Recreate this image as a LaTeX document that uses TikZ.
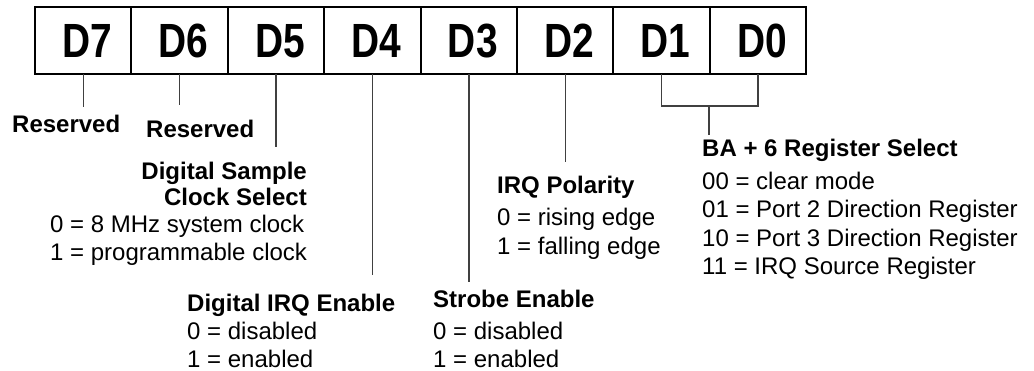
\documentclass[tikz,border=0pt]{standalone}
\usepackage{fontspec}
\setmainfont{Liberation Sans}
\usetikzlibrary{positioning}

\tikzset{
    cell/.style={draw, line width=2pt, minimum width=96.4pt, minimum height=67pt, inner sep=0pt, outer sep=0pt},
    lead/.style={draw=black!75, line width=1.4pt},
    head/.style={inner sep=0pt, anchor=north west, font=\fontsize{24}{26}\selectfont\bfseries},
    vals/.style={inner sep=0pt, anchor=north west, align=left, font=\fontsize{24}{28}\selectfont}
}
\newcommand{\bitname}[1]{\hspace*{8pt}\scalebox{0.81}[1]{\fontsize{48}{48}\selectfont\bfseries\smash{#1}\vphantom{D}}}

\begin{document}
\begin{tikzpicture}[x=1pt,y=-1pt]
        \useasboundingbox (0,0) rectangle (1034,371);
        % Биты регистра
        \node[cell] (D7) at (83.2,40.5) {\bitname{D7}};
        \node[cell, right=0pt of D7] (D6) {\bitname{D6}};
        \node[cell, right=0pt of D6] (D5) {\bitname{D5}};
        \node[cell, right=0pt of D5] (D4) {\bitname{D4}};
        \node[cell, right=0pt of D4] (D3) {\bitname{D3}};
        \node[cell, right=0pt of D3] (D2) {\bitname{D2}};
        \node[cell, right=0pt of D2] (D1) {\bitname{D1}};
        \node[cell, right=0pt of D1] (D0) {\bitname{D0}};
        
        % Подписи
        \node[head] (res7) at (12,114.5) {Reserved};
        \node[head] (res6) at (146,119.5) {Reserved};
        \node[head, anchor=north east, align=right] (d5head) at (307,161.5) {Digital Sample\\Clock Select};
        \node[vals] (d5vals) at (50,214.5) {0 = 8 MHz system clock\\1 = programmable clock};
        \node[head] (d4head) at (187,293.5) {Digital IRQ Enable};
        \node[vals, font=\fontsize{24}{27.5}\selectfont] (d4vals) at (187,322) {0 = disabled\\1 = enabled};
        \node[head] (d3head) at (433,290) {Strobe Enable};
        \node[vals] (d3vals) at (433,321.5) {0 = disabled\\1 = enabled};
        \node[head] (d2head) at (497,175.5) {IRQ Polarity};
        \node[vals, font=\fontsize{24}{29}\selectfont] (d2vals) at (497,207.5) {0 = rising edge\\1 = falling edge};
        \node[head] (d10head) at (702,138.5) {BA + 6 Register Select};
        \node[vals, font=\fontsize{24}{28.5}\selectfont] (d10vals) at (702,171.5) {00 = clear mode\\01 = Port 2 Direction Register\\10 = Port 3 Direction Register\\11 = IRQ Source Register};
        
        % Линии
        \draw[lead, shorten >=7pt] (D7.south) -- (D7.south |- res7.north);
        \draw[lead, shorten >=14pt] (D6.south) -- (D6.south |- res6.north);
        \draw[lead, shorten >=14pt] (D5.south) -- (D5.south |- d5head.north);
        \draw[lead, shorten >=18pt] (D4.south) -- (D4.south |- d4head.north);
        \draw[lead, shorten >=8pt] (D3.south) -- (D3.south |- d3head.north);
        \draw[lead, shorten >=13pt] (D2.south) -- (D2.south |- d2head.north);
        
        \coordinate (brk) at (709,106);
        \draw[lead] (D1.south) |- (brk) -| (D0.south);
        \draw[lead, shorten >=3pt] (brk) -- (brk |- d10head.north);
    \end{tikzpicture}
\end{document}
